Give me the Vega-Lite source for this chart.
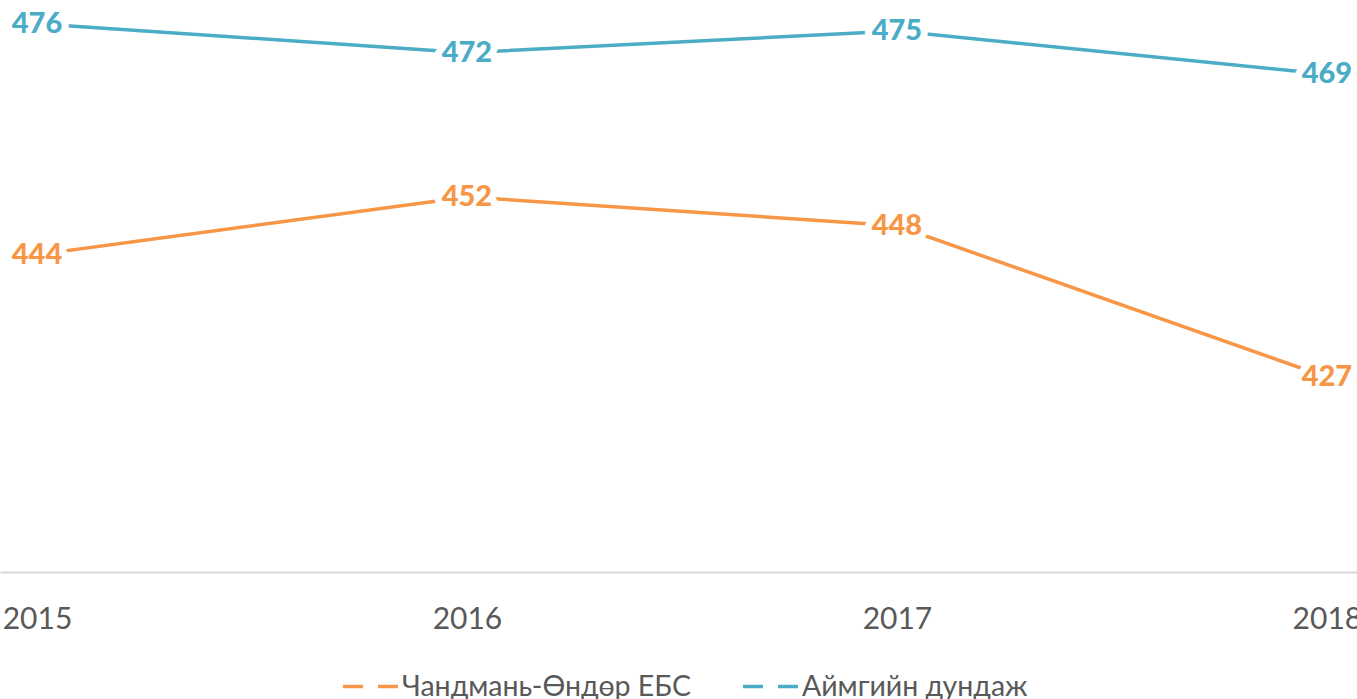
{
  "$schema": "https://vega.github.io/schema/vega-lite/v6.json",
  "width": 1357,
  "height": 572,
  "autosize": {"type": "none"},
  "padding": {"left": 0, "top": 0, "right": 0, "bottom": 127},
  "config": {"view": {"stroke": null}, "font": "Lato"},
  "data": {
    "values": [
      {"year": 2015, "series": "Чандмань-Өндөр ЕБС", "value": 444},
      {"year": 2016, "series": "Чандмань-Өндөр ЕБС", "value": 452},
      {"year": 2017, "series": "Чандмань-Өндөр ЕБС", "value": 448},
      {"year": 2018, "series": "Чандмань-Өндөр ЕБС", "value": 427},
      {"year": 2015, "series": "Аймгийн дундаж", "value": 476},
      {"year": 2016, "series": "Аймгийн дундаж", "value": 472},
      {"year": 2017, "series": "Аймгийн дундаж", "value": 475},
      {"year": 2018, "series": "Аймгийн дундаж", "value": 469}
    ]
  },
  "encoding": {
    "x": {
      "field": "year",
      "type": "quantitative",
      "scale": {"domain": [2014.914, 2018.07], "nice": false, "zero": false},
      "axis": {
        "values": [2015, 2016, 2017, 2018],
        "format": "d",
        "title": null,
        "grid": false,
        "ticks": false,
        "domainColor": "#D9D9D9",
        "domainWidth": 2,
        "labelFontSize": 30,
        "labelFont": "Lato",
        "labelColor": "#595959",
        "labelPadding": 32
      }
    },
    "y": {
      "field": "value",
      "type": "quantitative",
      "scale": {"domain": [400, 479.3], "nice": false, "zero": false},
      "axis": null
    },
    "color": {
      "field": "series",
      "type": "nominal",
      "sort": null,
      "scale": {"domain": ["Чандмань-Өндөр ЕБС", "Аймгийн дундаж"], "range": ["#F79646", "#4BACC6"]},
      "legend": {
        "orient": "none",
        "legendX": 341,
        "legendY": 657,
        "direction": "horizontal",
        "title": null,
        "labelFontSize": 28.5,
        "labelFont": "Lato",
        "labelColor": "#595959",
        "labelLimit": 0,
        "symbolType": "stroke",
        "symbolStrokeWidth": 3.5,
        "symbolDash": [20, 15],
        "symbolSize": 3025,
        "labelOffset": 2,
        "columnPadding": 45
      }
    }
  },
  "layer": [
    {"mark": {"type": "line", "strokeWidth": 3.5}},
    {
      "mark": {"type": "text", "fontSize": 29, "fontWeight": 900, "stroke": "white", "strokeWidth": 14, "strokeJoin": "round", "baseline": "middle"},
      "encoding": {"text": {"field": "value"}, "color": {"value": "white"}}
    },
    {
      "mark": {"type": "text", "fontSize": 29, "fontWeight": 900, "baseline": "middle"},
      "encoding": {"text": {"field": "value"}}
    }
  ]
}
